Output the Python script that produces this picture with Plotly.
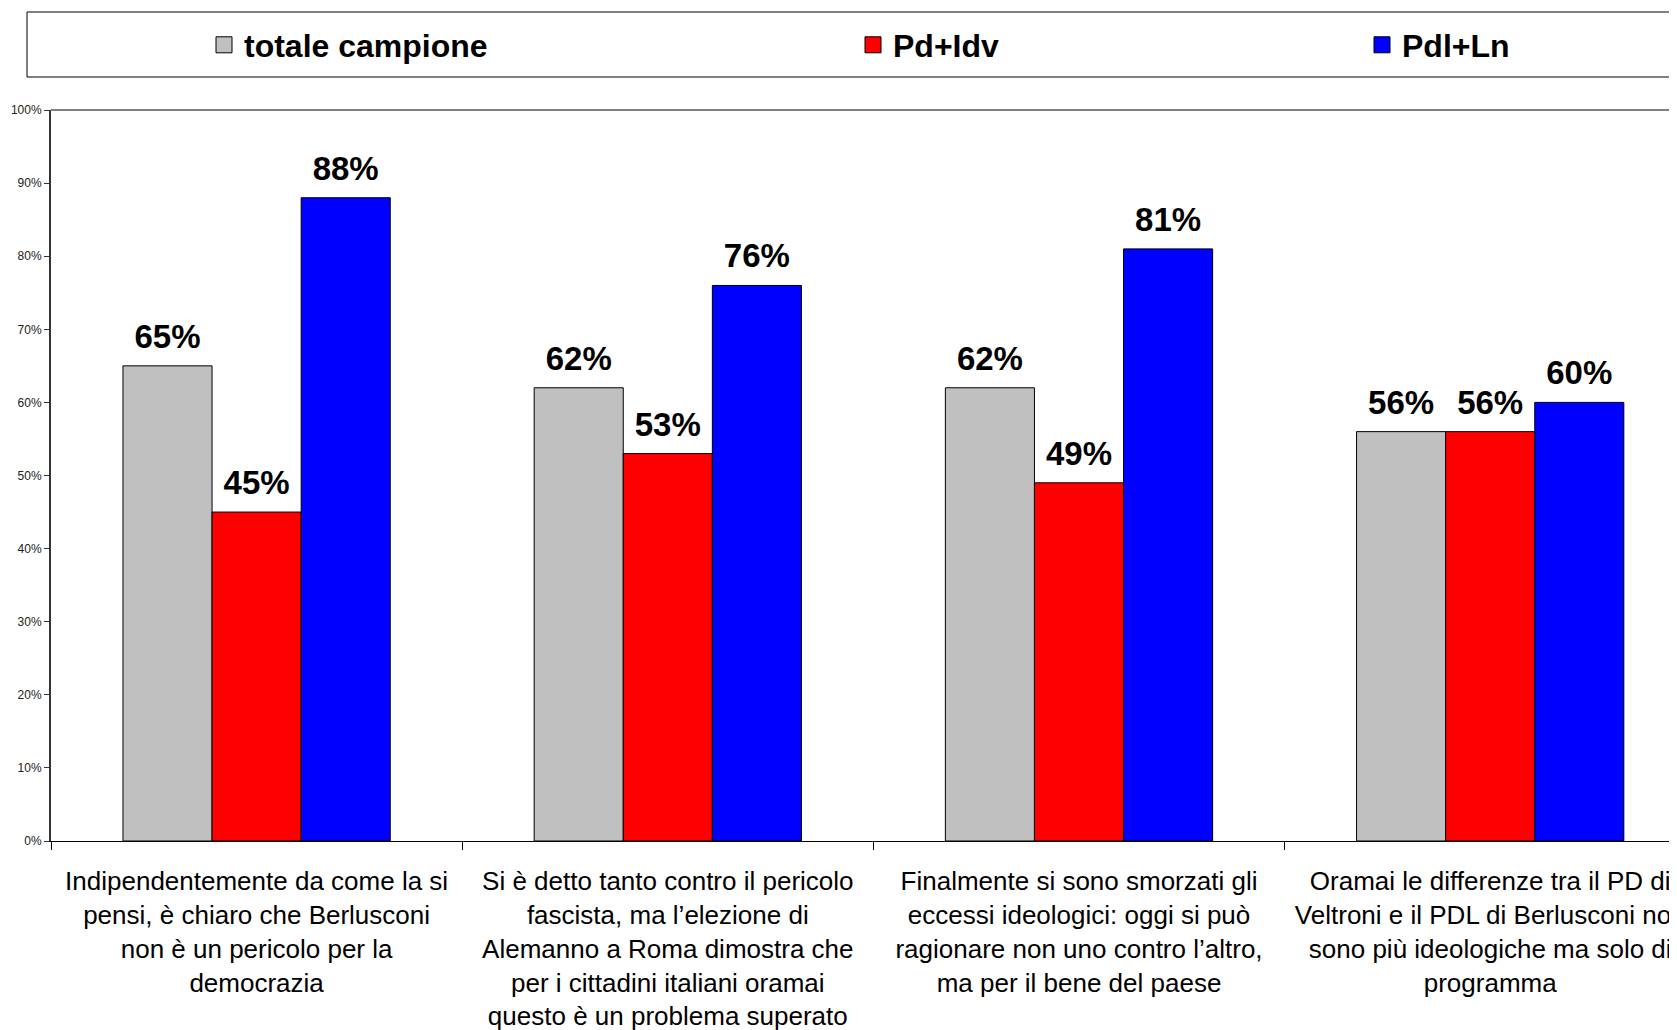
import plotly.graph_objects as go

categories = [
    "Indipendentemente da come la si<br>pensi, è chiaro che Berlusconi<br>non è un pericolo per la<br>democrazia",
    "Si è detto tanto contro il pericolo<br>fascista, ma l’elezione di<br>Alemanno a Roma dimostra che<br>per i cittadini italiani oramai<br>questo è un problema superato",
    "Finalmente si sono smorzati gli<br>eccessi ideologici: oggi si può<br>ragionare non uno contro l’altro,<br>ma per il bene del paese",
    "Oramai le differenze tra il PD di<br>Veltroni e il PDL di Berlusconi non<br>sono più ideologiche ma solo di<br>programma",
]
series_names = ["totale campione", "Pd+Idv", "Pdl+Ln"]
totale_campione = [65, 62, 62, 56]
pd_idv = [45, 53, 49, 56]
pdl_ln = [88, 76, 81, 60]
series_values = [totale_campione, pd_idv, pdl_ln]
colors = ["#C0C0C0", "#FF0000", "#0000FF"]
y_ticks = [0, 10, 20, 30, 40, 50, 60, 70, 80, 90, 100]
y_tick_labels = [f"{v}%" for v in y_ticks]

FONT = "Liberation Sans, Arial, sans-serif"

fig = go.Figure()
for i, (name, vals, col) in enumerate(zip(series_names, series_values, colors)):
    fig.add_trace(go.Bar(
        x=categories, y=vals, name=name, showlegend=False, offsetgroup=str(i),
        marker=dict(color=col, line=dict(color="black", width=1)),
        hoverinfo="y",
    ))
for i, vals in enumerate(series_values):
    fig.add_trace(go.Scatter(
        x=categories, y=vals, mode="markers+text", offsetgroup=str(i),
        text=[f"{v}%" for v in vals], textposition="top center",
        marker=dict(size=14, color="rgba(0,0,0,0)"),
        textfont=dict(family=FONT, size=33, color="black", weight="bold"),
        showlegend=False, hoverinfo="skip", cliponaxis=False,
    ))

legend_ids = ["legend", "legend2", "legend3"]
legend_x = [196, 845, 1354]
for name, col, lid in zip(series_names, colors, legend_ids):
    fig.add_trace(go.Scatter(
        x=[None], y=[None], mode="markers", name=name, legend=lid,
        marker=dict(symbol="square", size=16, color=col, line=dict(color="black", width=1)),
    ))

W, H = 1677, 1022
L, T, B = 43, 102, 833
legend_common = dict(
    xref="container", yref="container", xanchor="left", yanchor="middle",
    y=1 - 37 / H, bgcolor="rgba(0,0,0,0)", borderwidth=0,
    font=dict(family=FONT, size=32, color="black", weight="bold"),
)
layout_legends = {}
for lid, lx in zip(legend_ids, legend_x):
    layout_legends[lid] = dict(x=lx / W, **legend_common)

cat_w = 411.2
x_max = -0.5 + (W - L) / cat_w

fig.update_layout(
    width=W, height=H,
    margin=dict(l=L, r=0, t=T, b=H - B, autoexpand=False),
    paper_bgcolor="white", plot_bgcolor="white",
    barmode="group", bargap=0.35, bargroupgap=0,
    scattermode="group", scattergap=0.35,
    font=dict(family=FONT),
    xaxis=dict(
        range=[-0.5, x_max], tickson="boundaries", ticks="outside", ticklen=8,
        tickcolor="black", showline=True, linecolor="black", linewidth=1,
        showgrid=False, automargin=False, ticklabelstandoff=17,
        tickfont=dict(family=FONT, size=26, color="black"),
    ),
    yaxis=dict(
        range=[0, 100], tickvals=y_ticks, ticktext=y_tick_labels, ticks="outside", ticklen=5,
        tickcolor="#333", showline=True, linecolor="#333", linewidth=2,
        showgrid=False, zeroline=False, automargin=False,
        tickfont=dict(family=FONT, size=12, color="#222"),
    ),
    shapes=[
        dict(type="line", xref="paper", yref="paper", x0=0, x1=1.05, y0=1, y1=1,
             line=dict(color="#808080", width=2)),
        dict(type="rect", xref="paper", yref="paper",
             x0=(19 - L) / (W - L), x1=1.05,
             y0=1 + (T - 69) / (B - T), y1=1 + (T - 4) / (B - T),
             line=dict(color="black", width=1), fillcolor="rgba(0,0,0,0)"),
    ],
    **layout_legends,
)

fig.write_html("out.html")
